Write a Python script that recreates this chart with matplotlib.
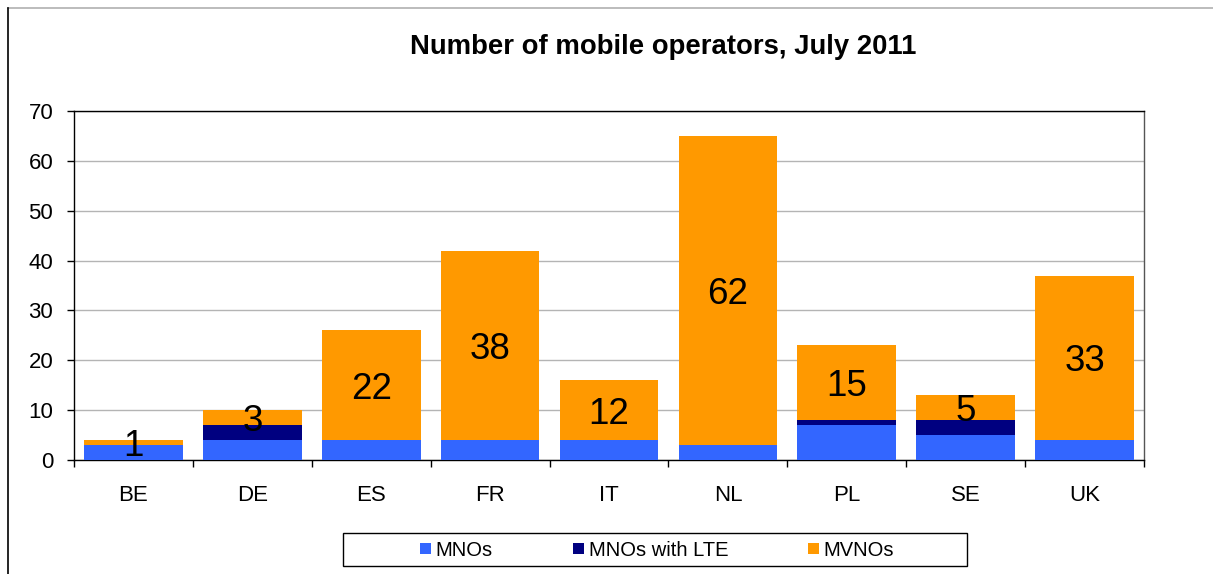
import numpy as np
import matplotlib.pyplot as plt
from matplotlib.lines import Line2D
from matplotlib.patches import Rectangle

# datos del gráfico
countries = ["BE", "DE", "ES", "FR", "IT", "NL", "PL", "SE", "UK"]
mnos = [3, 4, 4, 4, 4, 3, 7, 5, 4]
mnos_lte = [0, 3, 0, 0, 0, 0, 1, 3, 0]
mvnos = [1, 3, 22, 38, 12, 62, 15, 5, 33]

c_mno = "#3366FF"
c_lte = "#000080"
c_mvno = "#FF9900"

plt.rcParams['font.family'] = ['Liberation Sans', 'DejaVu Sans']

W, H = 1213, 574
fig = plt.figure(figsize=(W / 100, H / 100), dpi=100)
ax = fig.add_axes([74 / W, 1 - 460 / H, (1144 - 74) / W, (460 - 111) / H])

x = np.arange(len(countries))
mnos = np.array(mnos)
mnos_lte = np.array(mnos_lte)
mvnos = np.array(mvnos)
w = 0.83

ax.bar(x, mnos, w, color=c_mno, label="MNOs", zorder=3)
ax.bar(x, mnos_lte, w, bottom=mnos, color=c_lte, label="MNOs with LTE", zorder=3)
base = mnos + mnos_lte
ax.bar(x, mvnos, w, bottom=base, color=c_mvno, label="MVNOs", zorder=3)

for i in range(len(countries)):
    ax.text(x[i], base[i] + mvnos[i] / 2, str(mvnos[i]), ha="center", va="center_baseline",
            fontsize=26.5, zorder=4)

ax.set_xlim(-0.5, len(countries) - 0.5)
ax.set_ylim(0, 70)
ax.set_yticks(range(0, 71, 10))
ax.set_xticks(x)
ax.set_xticklabels(countries)
ax.set_xticks(np.arange(-0.5, len(countries), 1), minor=True)
ax.tick_params(axis="x", which="major", length=0, pad=18, labelsize=16)
ax.tick_params(axis="x", which="minor", length=5, width=1, direction="out")
ax.tick_params(axis="y", length=5, width=1, direction="out", labelsize=16, pad=10)
ax.yaxis.grid(True, color="#b4b4b4", linewidth=1, zorder=0)

for s in ax.spines.values():
    s.set_color("black")
    s.set_linewidth(1)
ax.spines["right"].set_color("#555555")

fig.text(663 / W, 1 - 47 / H, "Number of mobile operators, July 2011", ha="center", va="center",
         fontsize=19.8, fontweight="bold")

# leyenda: marco dibujado aparte
fig.add_artist(Rectangle((343 / W, 1 - 566 / H), (967 - 343) / W, 33 / H,
                         transform=fig.transFigure, fill=False, edgecolor="black", lw=1))
leg = fig.legend(loc="center", bbox_to_anchor=(657 / W, 1 - 550 / H), ncol=3,
                 frameon=False, fontsize=14.5,
                 handlelength=0.55, handleheight=0.45, handletextpad=0.25,
                 borderpad=0, borderaxespad=0, columnspacing=3.95)

# marco de la figura
fig.add_artist(Line2D([8 / W, 1], [1 - 8 / H, 1 - 8 / H], color="#b0b0b0", lw=1.2))
fig.add_artist(Line2D([8 / W, 8 / W], [0, 1 - 8 / H], color="black", lw=1.2))

fig.savefig("out.png", dpi=100)
